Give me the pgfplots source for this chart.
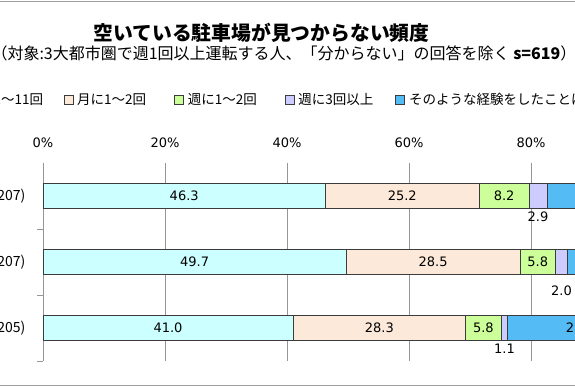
\documentclass[border=0pt]{standalone}
\usepackage{pgfplots}
\pgfplotsset{compat=1.18}
\usepackage{pgfplotstable}
\usepackage{fontspec}
\setmainfont{Noto Sans CJK JP}
\newfontfamily\numfont{DejaVu Sans}
\definecolor{cA}{RGB}{204,255,255}
\definecolor{cB}{RGB}{253,233,217}
\definecolor{cC}{RGB}{204,255,153}
\definecolor{cD}{RGB}{204,204,255}
\definecolor{cE}{RGB}{85,187,245}
\definecolor{gridc}{RGB}{150,150,150}
\definecolor{edge}{RGB}{60,60,60}

\pgfplotstableread{
y a b c d e dd
0 46.3 25.2 8.2 2.9 17.4 -21
1 49.7 28.5 5.8 2.0 14.0 -29
2 41.0 28.3 5.8 1.1 23.8 -21
}\data

\pgfplotsset{
  nlab/.style={
    point meta=explicit,
    nodes near coords={\pgfmathprintnumber[fixed,fixed zerofill,precision=1]{\pgfplotspointmeta}},
    every node near coord/.append style={font=\numfont\fontsize{13}{15}\selectfont, text=black, anchor=center, inner sep=0pt}
  }
}

\begin{document}
\begin{tikzpicture}[x=1pt,y=1pt]
\useasboundingbox (0,0) rectangle (575,387);
\fill[white] (0,0) rectangle (575,387);
\clip (0,0) rectangle (575,387);
\draw[gray!75, line width=1.5pt] (0,385.5) -- (575,385.5);
\draw[gray!75, line width=1.5pt] (0,1.5) -- (575,1.5);
\node[font=\fontsize{19.8}{23}\selectfont\bfseries] at (261.5,354) {空いている駐車場が見つからない頻度};
\node[font=\fontsize{16}{18}\selectfont] at (284,334) {（対象:3大都市圏で週1回以上運転する人、「分からない」の回答を除く \textbf{s=619}）};
\begin{axis}[
  at={(43pt,26pt)}, anchor=south west,
  scale only axis, width=610pt, height=198pt,
  /pgf/number format/assume math mode=true,
  xbar stacked, bar width=25pt,
  xmin=0, xmax=100, ymin=-0.5, ymax=2.5, y dir=reverse,
  axis line style={draw=none},
  xtick={0,20,...,100}, xticklabel pos=upper,
  xticklabel={\pgfmathprintnumber{\tick}\%},
  xticklabel style={font=\numfont\fontsize{13}{15}\selectfont, anchor=center, yshift=20pt},
  ytick={0,1,2}, yticklabels={首都圏(n=207),中京圏(n=207),近畿圏(n=205)},
  yticklabel style={font=\fontsize{14}{16}\selectfont, anchor=east, xshift=-14pt},
  minor ytick={0.5,1.5,2.5},
  major tick length=0pt, minor tick length=6pt, tick align=outside,
  ytick pos=left,
  minor tick style={gridc, line width=0.7pt},
  xmajorgrids, major x grid style={gridc, line width=0.7pt},
  legend style={at={(axis description cs:-0.14754,1.31818)}, anchor=west, draw=none, fill=none,
    inner sep=0pt, outer sep=0pt, legend columns=5, font=\fontsize{13.5}{16}\selectfont,
    nodes={inner sep=0pt},
    /tikz/every odd column/.style={column sep=4pt},
    /tikz/every even column/.style={column sep=0pt}},
  every axis plot post/.append style={
    legend image code/.code={\draw[#1, draw=edge, line width=0.6pt] (0pt,-4.5pt) rectangle (9pt,4.5pt);}},
]
\addplot[fill=cA, draw=edge, line width=0.7pt, nlab] table[x=a, y=y, meta=a] {\data};
\addplot[fill=cB, draw=edge, line width=0.7pt, nlab] table[x=b, y=y, meta=b] {\data};
\addplot[fill=cC, draw=edge, line width=0.7pt, nlab] table[x=c, y=y, meta=c] {\data};
\addplot[fill=cD, draw=edge, line width=0.7pt, nlab,
  visualization depends on={\thisrow{dd} \as \dy},
  every node near coord/.append style={yshift=\dy pt}] table[x=d, y=y, meta=d] {\data};
\addplot[fill=cE, draw=edge, line width=0.7pt, nlab] table[x=e, y=y, meta=e] {\data};
\draw[gridc, line width=0.7pt] (axis description cs:0,0) -- (axis description cs:0,1);
\legend{\makebox[97pt][l]{年に1～11回},\makebox[97pt][l]{月に1～2回},\makebox[97pt][l]{週に1～2回},\makebox[97pt][l]{週に3回以上},\makebox[97pt][l]{そのような経験をしたことはない}}
\end{axis}
\end{tikzpicture}
\end{document}
